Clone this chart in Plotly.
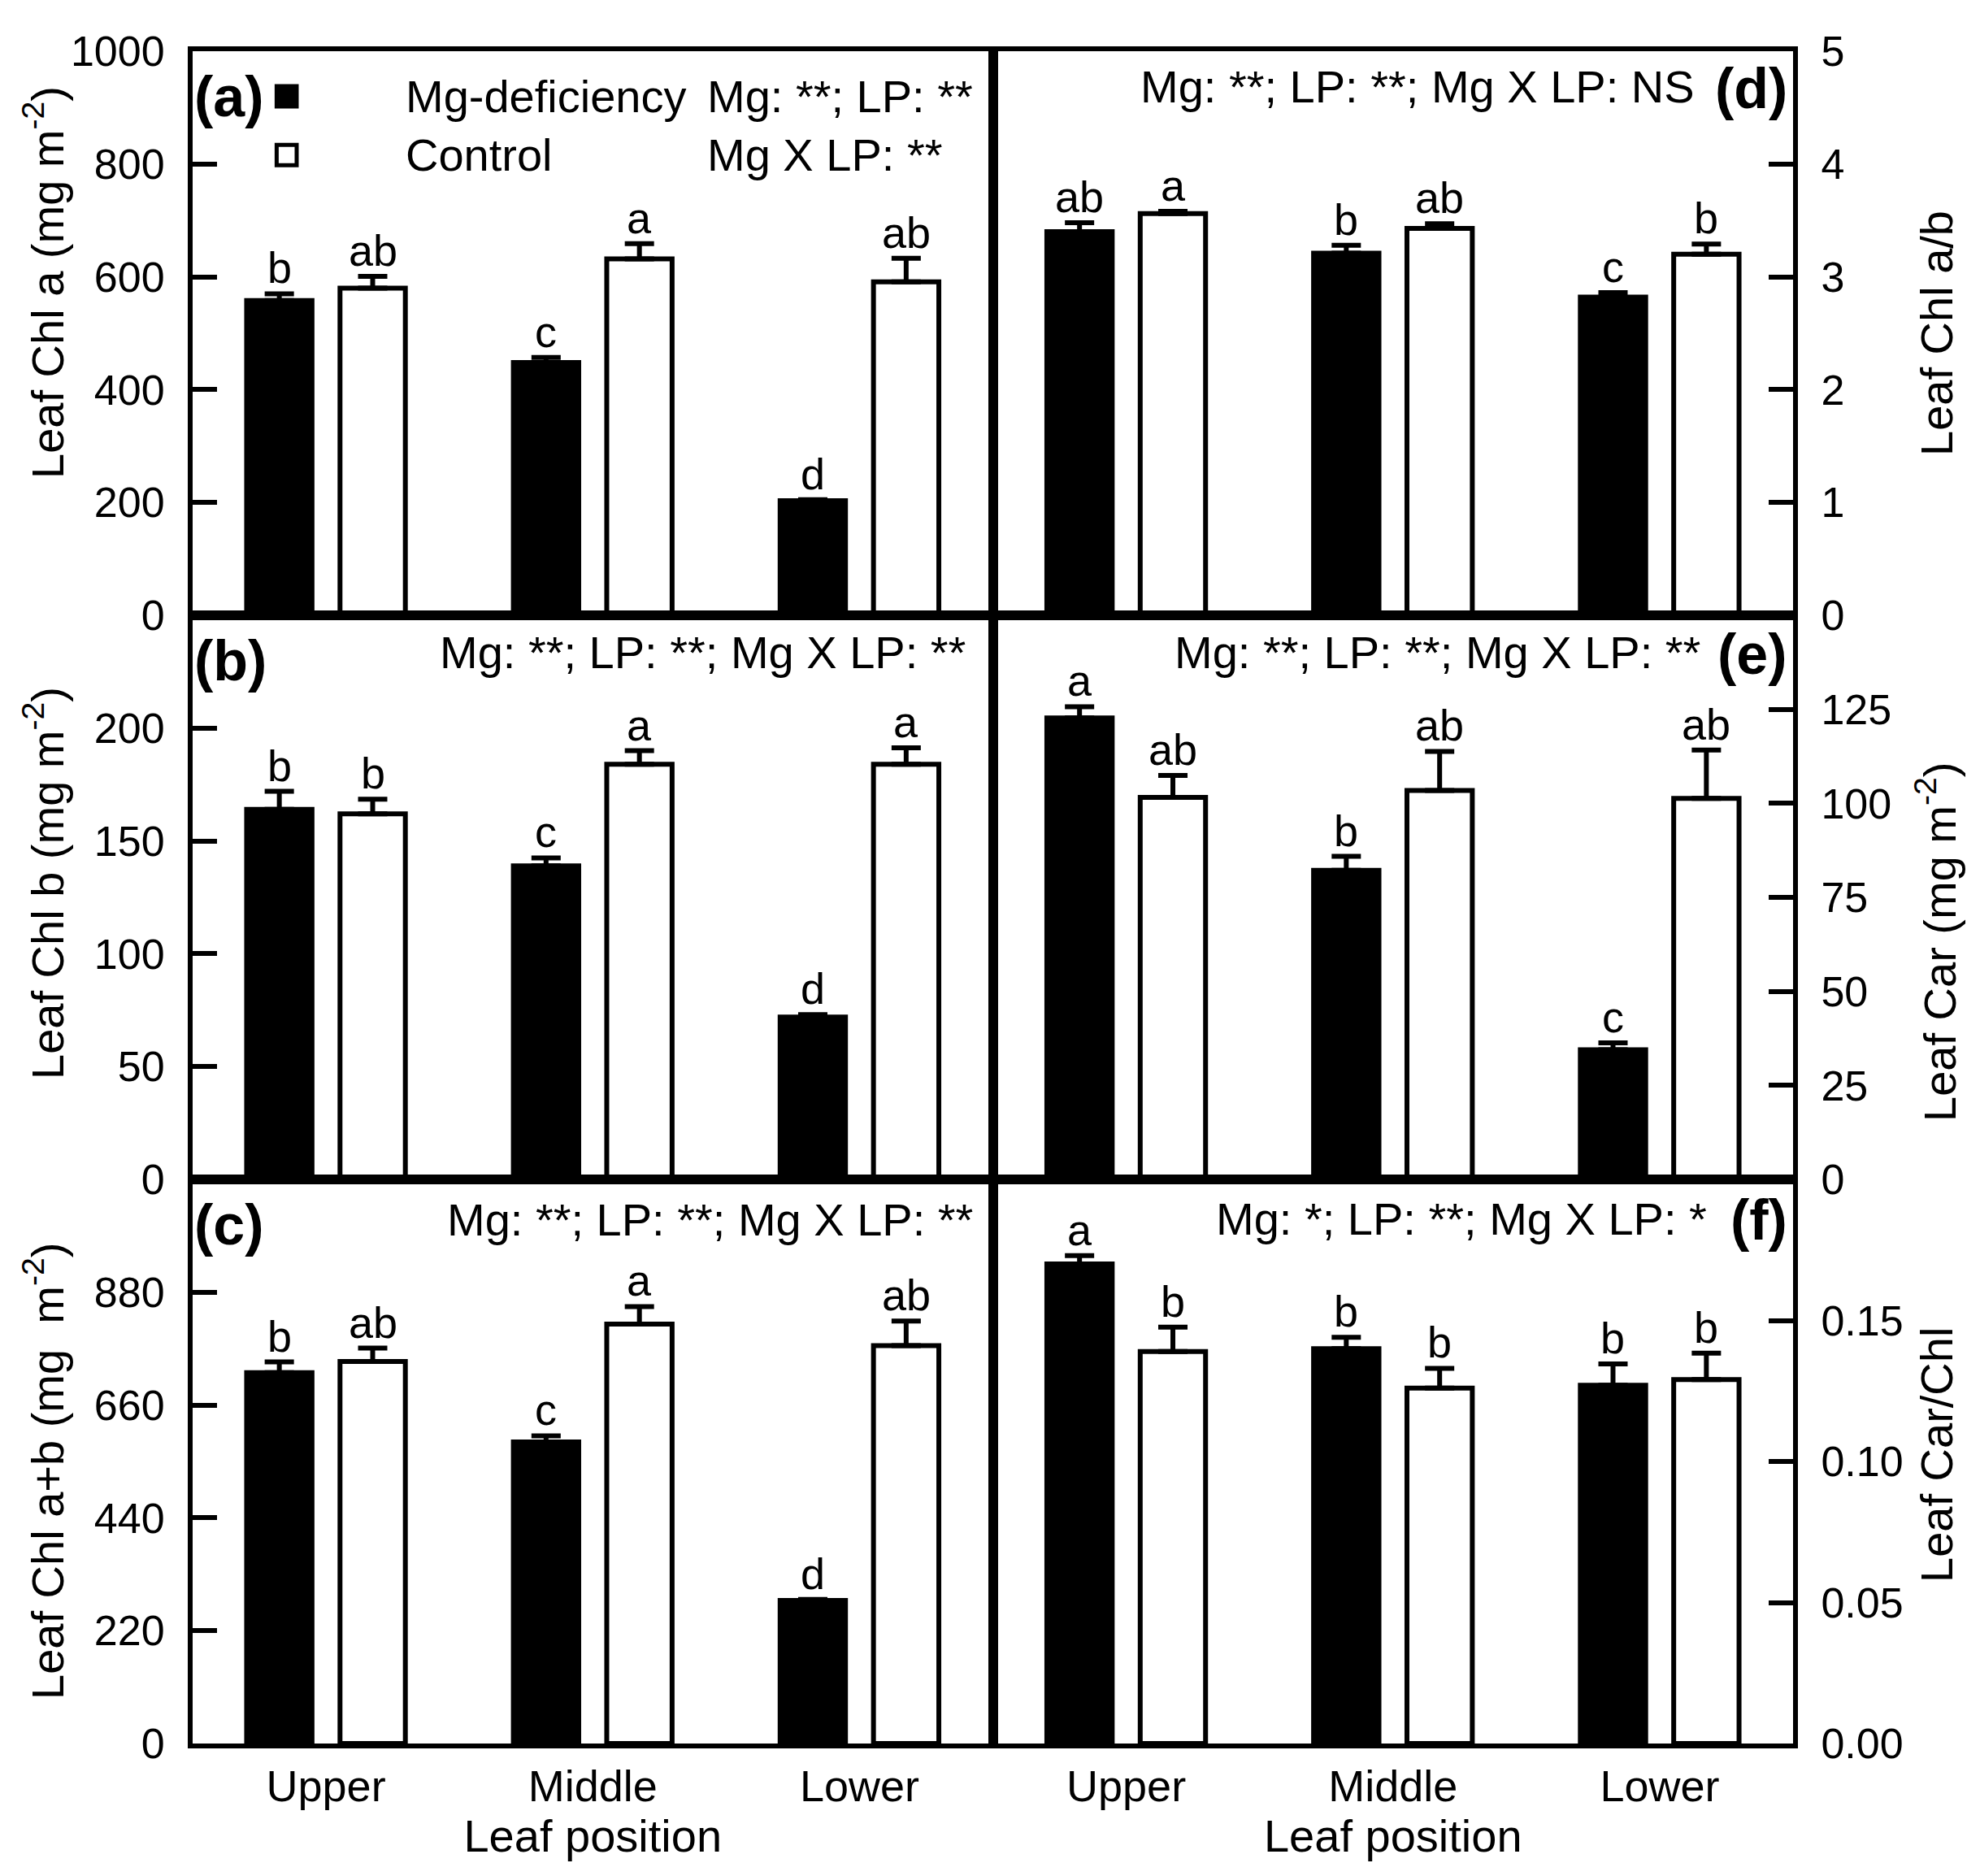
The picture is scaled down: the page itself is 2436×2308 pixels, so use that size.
import plotly.graph_objects as go
from plotly.subplots import make_subplots

positions = ["Upper", "Middle", "Lower"]

# (a) Leaf Chl a
chl_a_mg = [558, 448, 203]
chl_a_mg_se = [12, 9, 2]
chl_a_ctrl = [580, 632, 591]
chl_a_ctrl_se = [21, 27, 42]
chl_a_mg_let = ["b", "c", "d"]
chl_a_ctrl_let = ["ab", "a", "ab"]
chl_a_ticks = [0, 200, 400, 600, 800, 1000]

# (b) Leaf Chl b
chl_b_mg = [164, 139, 72]
chl_b_mg_se = [8, 3.5, 1]
chl_b_ctrl = [162, 184, 184]
chl_b_ctrl_se = [6.5, 6, 7.3]
chl_b_mg_let = ["b", "c", "d"]
chl_b_ctrl_let = ["b", "a", "a"]
chl_b_ticks = [0, 50, 100, 150, 200]

# (c) Leaf Chl a+b
chl_ab_mg = [723, 588, 279]
chl_ab_mg_se = [21, 12, 2]
chl_ab_ctrl = [745, 818, 776]
chl_ab_ctrl_se = [26, 34, 48]
chl_ab_mg_let = ["b", "c", "d"]
chl_ab_ctrl_let = ["ab", "a", "ab"]
chl_ab_ticks = [0, 220, 440, 660, 880]

# (d) Leaf Chl a/b
ratio_mg = [3.40, 3.21, 2.82]
ratio_mg_se = [0.08, 0.07, 0.04]
ratio_ctrl = [3.56, 3.43, 3.20]
ratio_ctrl_se = [0.02, 0.04, 0.09]
ratio_mg_let = ["ab", "b", "c"]
ratio_ctrl_let = ["a", "ab", "b"]
ratio_ticks = [0, 1, 2, 3, 4, 5]

# (e) Leaf Car
car_mg = [122.7, 82.2, 34.5]
car_mg_se = [3.0, 3.7, 1.8]
car_ctrl = [101.6, 103.4, 101.3]
car_ctrl_se = [5.8, 10.4, 12.9]
car_mg_let = ["a", "b", "c"]
car_ctrl_let = ["ab", "ab", "ab"]
car_ticks = [0, 25, 50, 75, 100, 125]

# (f) Leaf Car/Chl
carchl_mg = [0.170, 0.140, 0.127]
carchl_mg_se = [0.003, 0.004, 0.0076]
carchl_ctrl = [0.139, 0.126, 0.129]
carchl_ctrl_se = [0.0086, 0.007, 0.0094]
carchl_mg_let = ["a", "b", "b"]
carchl_ctrl_let = ["b", "b", "b"]
carchl_ticks = [0, 0.05, 0.10, 0.15]

FONT = "Liberation Sans, Arial, sans-serif"
W, H = 2436, 2308
ML, MR, MT, MB = 229, 238, 55, 171
BARGAP = 0.30
XRANGE = [-0.5, 2.5]
LW = 6

panels = [
    # row, col, mg, mg_se, ctrl, ctrl_se, mg letters, ctrl letters, range, ticks, fmt
    (1, 1, chl_a_mg, chl_a_mg_se, chl_a_ctrl, chl_a_ctrl_se, chl_a_mg_let, chl_a_ctrl_let, [0, 1000], chl_a_ticks, None),
    (2, 1, chl_b_mg, chl_b_mg_se, chl_b_ctrl, chl_b_ctrl_se, chl_b_mg_let, chl_b_ctrl_let, [0, 250], chl_b_ticks, None),
    (3, 1, chl_ab_mg, chl_ab_mg_se, chl_ab_ctrl, chl_ab_ctrl_se, chl_ab_mg_let, chl_ab_ctrl_let, [0, 1100], chl_ab_ticks, None),
    (1, 2, ratio_mg, ratio_mg_se, ratio_ctrl, ratio_ctrl_se, ratio_mg_let, ratio_ctrl_let, [0, 5], ratio_ticks, None),
    (2, 2, car_mg, car_mg_se, car_ctrl, car_ctrl_se, car_mg_let, car_ctrl_let, [0, 150], car_ticks, None),
    (3, 2, carchl_mg, carchl_mg_se, carchl_ctrl, carchl_ctrl_se, carchl_mg_let, carchl_ctrl_let, [0, 0.2], carchl_ticks, ".2f"),
]

fig = make_subplots(rows=3, cols=2, horizontal_spacing=0, vertical_spacing=0)

col_w = (W - ML - MR) / 2
px_per_unit = col_w / (XRANGE[1] - XRANGE[0])
shift = (1 - BARGAP) / 4 * px_per_unit

for row, col, mg, mg_se, ctrl, ctrl_se, mg_let, ctrl_let, yr, tv, fmt in panels:
    for vals, se, fill, name in [(mg, mg_se, "black", "Mg-deficiency"), (ctrl, ctrl_se, "white", "Control")]:
        fig.add_trace(go.Bar(
            x=positions, y=vals, name=name, showlegend=False,
            marker=dict(color=fill, line=dict(color="black", width=LW)),
            error_y=dict(type="data", array=se, arrayminus=[0] * len(se), symmetric=False,
                         color="black", thickness=LW, width=18),
        ), row=row, col=col)

    # significance letters above the error bars
    idx = (row - 1) * 2 + col
    xr = "x" if idx == 1 else "x%d" % idx
    yr_ref = "y" if idx == 1 else "y%d" % idx
    for vals, se, lets, sgn in [(mg, mg_se, mg_let, -1), (ctrl, ctrl_se, ctrl_let, 1)]:
        for cat, v, e, t in zip(positions, vals, se, lets):
            fig.add_annotation(x=cat, y=v + e, xref=xr, yref=yr_ref, text=t, showarrow=False,
                               xshift=sgn * shift, yshift=0, yanchor="bottom",
                               font=dict(size=54, family=FONT, color="black"))

    fig.update_yaxes(range=yr, tickvals=tv, tickformat=fmt, ticks="inside", ticklen=30,
                     tickwidth=LW, tickcolor="black", showline=True, linewidth=LW, linecolor="black",
                     mirror=True, showgrid=False, zeroline=False, side="left" if col == 1 else "right",
                     ticklabelstandoff=18, tickfont=dict(size=52, family=FONT, color="black"),
                     row=row, col=col)
    fig.update_xaxes(range=XRANGE, ticks="", showline=True, linewidth=LW, linecolor="black",
                     mirror=True, showgrid=False, showticklabels=(row == 3),
                     tickfont=dict(size=54, family=FONT, color="black"), row=row, col=col)

for col in (1, 2):
    fig.update_xaxes(title=dict(text="Leaf position", standoff=8,
                                font=dict(size=56, family=FONT, color="black")), row=3, col=col)

# y-axis titles (placed to match the original offsets)
ytitles = [
    ("y domain", "Leaf Chl a (mg m<sup>-2</sup>)", 1, 0.5 + 62 / 694),
    ("y3 domain", "Leaf Chl b (mg m<sup>-2</sup>)", 1, 0.5 + 17 / 694),
    ("y5 domain", "Leaf Chl a+b (mg  m<sup>-2</sup>)", 1, 0.5 - 12 / 694),
    ("y2 domain", "Leaf Chl a/b", 2, 0.5),
    ("y4 domain", "Leaf Car (mg m<sup>-2</sup>)", 2, 0.5 - 55 / 694),
    ("y6 domain", "Leaf Car/Chl", 2, 0.5 + 8 / 694),
]
for yref, txt, col, yy in ytitles:
    fig.add_annotation(xref="paper", yref=yref, x=0 if col == 1 else 1, y=yy,
                       xshift=-183 if col == 1 else 176, text=txt, textangle=-90, showarrow=False,
                       xanchor="center", yanchor="middle",
                       font=dict(size=56, family=FONT, color="black"))

# panel labels and statistics
labels = [
    ("x domain", "y domain", "(a)", 0.0, 0.92, "left"),
    ("x3 domain", "y3 domain", "(b)", 0.0, 0.92, "left"),
    ("x5 domain", "y5 domain", "(c)", 0.0, 0.92, "left"),
    ("x2 domain", "y2 domain", "(d)", 0.995, 0.933, "right"),
    ("x4 domain", "y4 domain", "(e)", 0.995, 0.931, "right"),
    ("x6 domain", "y6 domain", "(f)", 0.995, 0.928, "right"),
]
for xref, yref, txt, xx, yy, anc in labels:
    fig.add_annotation(xref=xref, yref=yref, x=xx, y=yy, text="<b>%s</b>" % txt, showarrow=False,
                       xanchor=anc, yanchor="middle", font=dict(size=70, family=FONT, color="black"))

stats = [
    ("x domain", "y domain", "Mg: **; LP: **", 0.641, 0.92, "left"),
    ("x domain", "y domain", "Mg X LP: **", 0.641, 0.816, "left"),
    ("x3 domain", "y3 domain", "Mg: **; LP: **; Mg X LP: **", 0.968, 0.934, "right"),
    ("x5 domain", "y5 domain", "Mg: **; LP: **; Mg X LP: **", 0.977, 0.928, "right"),
    ("x2 domain", "y2 domain", "Mg: **; LP: **; Mg X LP: NS", 0.879, 0.937, "right"),
    ("x4 domain", "y4 domain", "Mg: **; LP: **; Mg X LP: **", 0.886, 0.934, "right"),
    ("x6 domain", "y6 domain", "Mg: *; LP: **; Mg X LP: *", 0.894, 0.93, "right"),
]
for xref, yref, txt, xx, yy, anc in stats:
    fig.add_annotation(xref=xref, yref=yref, x=xx, y=yy, text=txt, showarrow=False,
                       xanchor=anc, yanchor="middle", font=dict(size=56, family=FONT, color="black"))

# legend keys drawn inside panel (a)
legend_items = [("Mg-deficiency", "black", 0.92), ("Control", "white", 0.816)]
for name, fill, yy in legend_items:
    fig.add_shape(type="rect", xref="x domain", yref="y domain", x0=0.105, x1=0.130,
                  y0=yy - 0.018, y1=yy + 0.018, fillcolor=fill, line=dict(color="black", width=5))
    fig.add_annotation(xref="x domain", yref="y domain", x=0.264, y=yy, text=name, showarrow=False,
                       xanchor="left", yanchor="middle", font=dict(size=56, family=FONT, color="black"))

fig.update_layout(
    width=W, height=H, barmode="group", bargap=BARGAP, bargroupgap=0.30,
    margin=dict(l=ML, r=MR, t=MT, b=MB), paper_bgcolor="white", plot_bgcolor="white",
    font=dict(family=FONT, color="black"), showlegend=False,
)

fig.write_html("out.html")
